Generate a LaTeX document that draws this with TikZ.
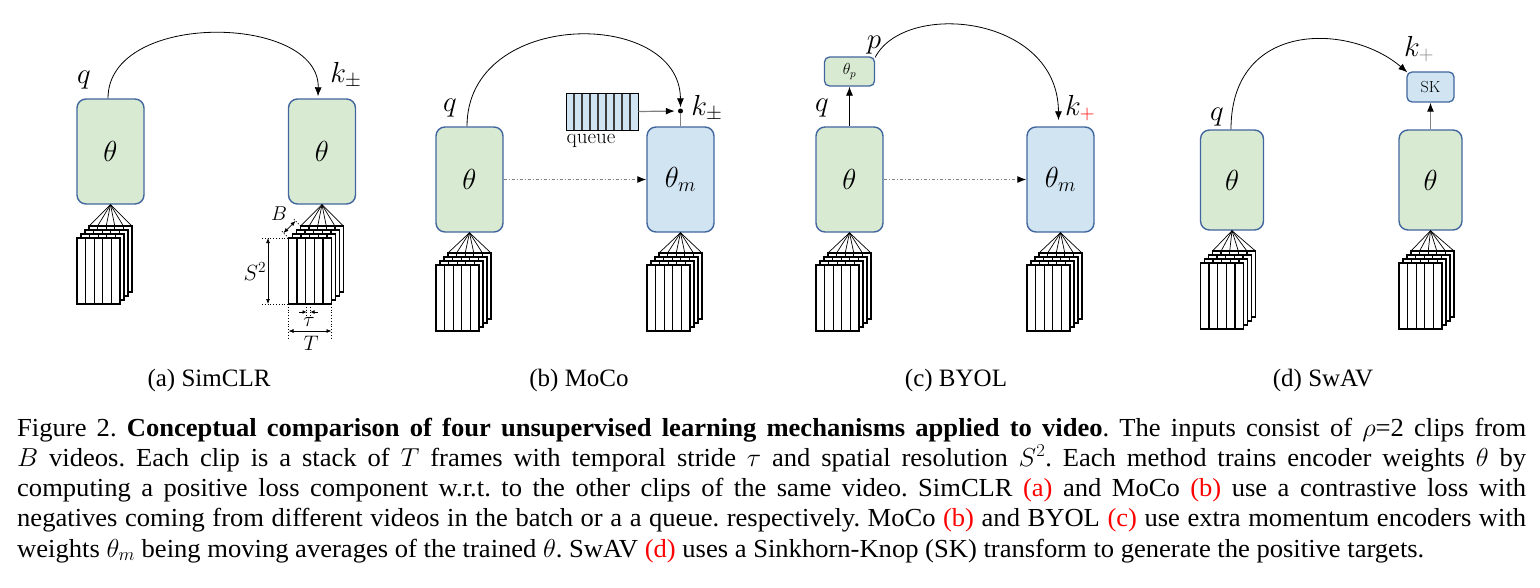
\documentclass[tikz,border=0pt]{standalone}
\usepackage{fix-cm}
\usepackage{fontspec}
\setmainfont{Liberation Serif}
\usepackage{graphicx}
\usetikzlibrary{arrows.meta}
\frenchspacing
\definecolor{gfill}{RGB}{217,234,211}
\definecolor{bfill}{RGB}{208,228,242}
\definecolor{bdr}{RGB}{65,102,158}
\definecolor{qdiv}{RGB}{60,60,60}
\definecolor{lgray}{RGB}{128,128,128}
\newlength\natw
\newcommand\capxs{1.022}
\newcommand\capline[1]{\settowidth\natw{#1}\ifdim\natw>1476.5pt\relax\pgfmathsetmacro\capfac{1509pt/\natw}\scalebox{\capfac}[1]{#1}\else\scalebox{\capxs}[1]{\makebox[1476.5pt][s]{#1}}\fi}
\newcommand\clipstack[3]{%
  \foreach \i in {3,2,1,0}{\foreach \j in {0,...,4}{\draw[framecol] ({#2+4*\i+8.6*\j},{#3-4*\i}) rectangle ++(8.6,66);}}
  \foreach \j in {0,...,5}{\draw[fanline] (#1.south) -- ({#2+12+8.6*\j},{#3-12});}}
\tikzset{
  enc/.style={draw=bdr, line width=1.4pt, rounded corners=9pt, minimum width=67pt, minimum height=105pt, inner sep=0pt, font=\fontsize{29}{30}\selectfont},
  genc/.style={enc, fill=gfill},
  benc/.style={enc, fill=bfill},
  smallbox/.style={draw=bdr, line width=1.3pt, rounded corners=5pt, inner sep=0pt},
  lab/.style={font=\fontsize{29}{30}\selectfont, inner sep=0pt},
  arcarr/.style={line width=0.8pt, -{Latex[length=9pt,width=7pt]}},
  garr/.style={draw=lgray, line width=1.2pt, -{Latex[length=9pt,width=7pt,color=black]}},
  mom/.style={draw=lgray, line width=1pt, dash dot, -{Latex[length=9pt,width=7pt,color=black]}},
  framecol/.style={draw=black, line width=1.3pt, fill=white},
  fanline/.style={line width=0.7pt},
  dimline/.style={line width=0.8pt, dotted},
  dimarr/.style={line width=0.7pt, {Latex[length=5pt,width=4pt]}-{Latex[length=5pt,width=4pt]}},
  subcap/.style={font=\fontsize{25}{28}\selectfont, inner sep=0pt},
  capl/.style={font=\fontsize{26}{30}\selectfont, inner sep=0pt, anchor=base west}
}
\begin{document}
\begin{tikzpicture}[x=1pt,y=-1pt]
\useasboundingbox (0,0) rectangle (1540,587);
% ---------- (a) SimCLR
\node[genc] (a1) at (110.5,151.5) {$\theta$};
\node[genc] (a2) at (322,151.5) {$\theta$};
\clipstack{a1}{77}{238}
\clipstack{a2}{288.5}{238}
\node[lab] (aq) at (84,80) {$q$};
\node[lab] (ak) at (346,75) {$k_\pm$};
\draw[arcarr] ([xshift=-2.5pt]a1.north) .. controls (108,10) and (320,14) .. ([xshift=-4pt,yshift=2pt]a2.north);
% dimensions
\draw[dimline] (262,238) -- (288.5,238);
\draw[dimline] (262,304) -- (288.5,304);
\draw[dimarr] (268,238) -- (268,304);
\node[font=\fontsize{22}{24}\selectfont, inner sep=0pt] (s2) at (255,272) {$S^2$};
\draw[dimline] (288.5,304) -- (288.5,338);
\draw[dimline] (331.5,304) -- (331.5,338);
\draw[dimarr] (288.5,331) -- (331.5,331);
\node[font=\fontsize{21}{22}\selectfont, inner sep=0pt] (tT) at (311,343) {$T$};
\draw[dimline] (306.5,304) -- (306.5,316);
\draw[dimline] (310.5,304) -- (310.5,316);
\draw[line width=0.7pt, -{Latex[length=4pt,width=4pt]}] (299,312) -- (306.5,312);
\draw[line width=0.7pt, -{Latex[length=4pt,width=4pt]}] (318,312) -- (310.5,312);
\node[font=\fontsize{21}{22}\selectfont, inner sep=0pt] (tau) at (309,322) {$\tau$};
\draw[dimline] (288.5,238) -- (281,230.5);
\draw[dimline] (300.5,226) -- (293,218.5);
\draw[dimarr] (283.5,233) -- (295.5,221);
\node[font=\fontsize{20}{22}\selectfont, inner sep=0pt] (bB) at (279,214) {$B$};
\node[subcap] (capa) at (209,380) {(a) SimCLR};
% ---------- (b) MoCo
\node[genc] (b1) at (469.5,179.5) {$\theta$};
\node[benc] (b2) at (680.5,179.5) {$\theta_m$};
\clipstack{b1}{436}{265}
\clipstack{b2}{647}{265}
\node[lab] (bq) at (450,108) {$q$};
\node[lab] (bk) at (707,108) {$k_\pm$};
\node[circle, fill=black, inner sep=0pt, minimum size=5pt] (bd) at (680.5,111) {};
\draw[lgray, line width=1.2pt] (bd) -- (b2.north);
\draw[arcarr, shorten >=1pt] ([xshift=-2.5pt]b1.north) .. controls (467,8) and (680,8) .. (bd.north);
\node[draw=black, line width=0.9pt, fill=bfill, minimum width=72pt, minimum height=37pt, inner sep=0pt] (qu) at (602,111.5) {};
\foreach \k in {1,...,8}{\draw[qdiv, line width=1.3pt] ({566+8*\k},93.5) -- ++(0,36);}
\node[font=\fontsize{21}{22}\fontfamily{lmr}\selectfont, inner sep=0pt] (qlab) at (591,141) {queue};
\draw[garr, shorten >=3pt] (qu.east) -- (bd.west);
\draw[mom] (b1.east) -- (b2.west);
\node[subcap] (capb) at (579,380) {(b) MoCo};
% ---------- (c) BYOL
\node[genc] (c1) at (849.5,179.5) {$\theta$};
\node[benc] (c2) at (1060.5,179.5) {$\theta_m$};
\clipstack{c1}{816}{265}
\clipstack{c2}{1027}{265}
\node[smallbox, fill=gfill, minimum width=50pt, minimum height=29pt, font=\fontsize{16}{18}\selectfont] (cp) at (849.5,71.5) {$\theta_p$};
\draw[arcarr] (c1.north) -- (cp.south);
\node[lab] (cq) at (822,108) {$q$};
\node[lab] (cpl) at (874,45) {$p$};
\node[lab] (ck) at (1080,108) {$k_{\textcolor{red}{+}}$};
\draw[arcarr] ([yshift=-1pt]cp.north east) .. controls (905,0) and (1058,15) .. ([xshift=-2pt,yshift=6pt]c2.north);
\draw[mom] (c1.east) -- (c2.west);
\node[subcap] (capc) at (956,380) {(c) BYOL};
% ---------- (d) SwAV
\node[genc, minimum width=63pt, minimum height=100pt] (d1) at (1232,180) {$\theta$};
\node[genc, minimum width=63pt, minimum height=100pt] (d2) at (1430.5,180) {$\theta$};
\clipstack{d1}{1200.5}{263}
\clipstack{d2}{1399}{263}
\node[smallbox, fill=bfill, minimum width=47pt, minimum height=30pt, font=\fontsize{16}{18}\fontfamily{lmr}\selectfont] (sk) at (1430.5,87) {SK};
\draw[garr] (d2.north) -- (sk.south);
\node[lab] (dq) at (1217,117) {$q$};
\node[lab] (dk) at (1419,49) {$k_{\textcolor{lgray}{+}}$};
\draw[arcarr] ([xshift=-1pt]d1.north) .. controls (1231,20) and (1350,23) .. ([xshift=1pt,yshift=-1pt]sk.north west);
\node[subcap] (capd) at (1323,380) {(d) SwAV};
% ---------- caption
\node[capl] (l1) at (17,436) {\capline{Figure 2. \textbf{Conceptual comparison of four unsupervised learning mechanisms applied to video}. The inputs consist of $\rho$=2 clips from}};
\node[capl] (l2) at (17,466.3) {\capline{$B$ videos. Each clip is a stack of $T$ frames with temporal stride $\tau$ and spatial resolution $S^2$. Each method trains encoder weights $\theta$ by}};
\node[capl] (l3) at (17,496.5) {\capline{computing a positive loss component w.r.t. to the other clips of the same video. SimCLR \textcolor{red}{(a)} and MoCo \textcolor{red}{(b)} use a contrastive loss with}};
\node[capl] (l4) at (17,526.8) {\capline{negatives coming from different videos in the batch or a a queue. respectively. MoCo \textcolor{red}{(b)} and BYOL \textcolor{red}{(c)} use extra momentum encoders with}};
\node[capl] (l5) at (17,557) {\scalebox{\capxs}[1]{weights $\theta_m$ being moving averages of the trained $\theta$. SwAV \textcolor{red}{(d)} uses a Sinkhorn-Knop (SK) transform to generate the positive targets.}};
\end{tikzpicture}
\end{document}
